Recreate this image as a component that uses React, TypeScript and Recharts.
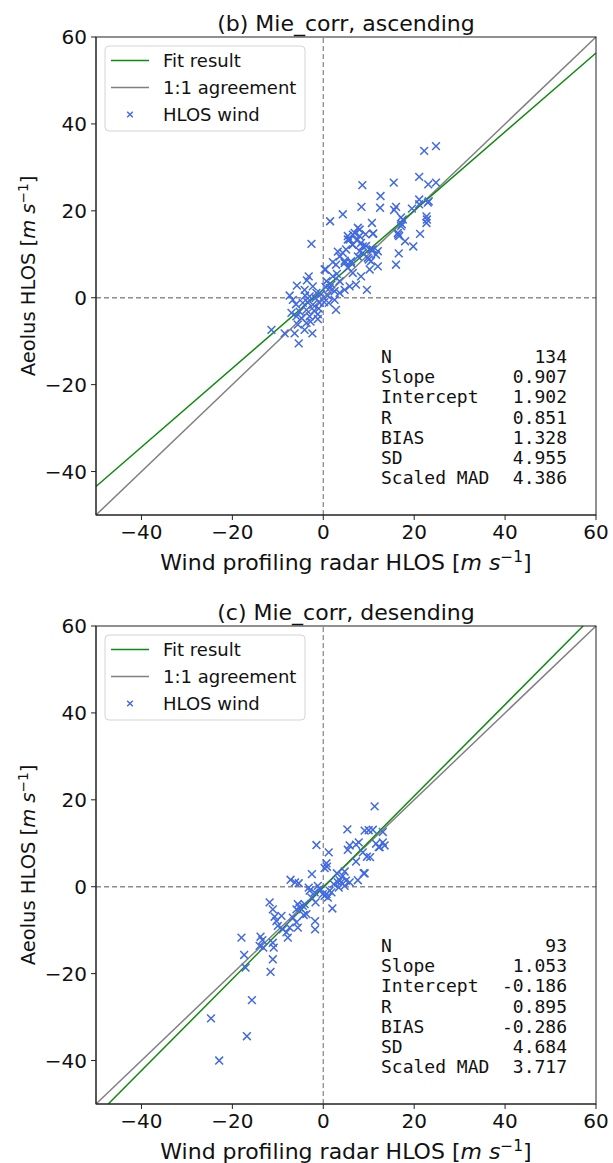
import React from "react";
import { ScatterChart, Scatter, XAxis, YAxis, ReferenceLine } from "recharts";

const AXIS_TICKS = [-40, -20, 0, 20, 40, 60];
const AXIS_DOMAIN: [number, number] = [-50, 60];

// (radar HLOS, Aeolus HLOS) pairs, m/s
const ascendingPoints: [number, number][] = [
  [22.2, 33.8], [24.8, 34.9], [21.1, 27.8], [8.6, 25.9], [15.5, 26.5], [23.1, 26.1], [24.8, 26.5],
  [12.6, 23.4], [12.5, 20.7], [8.4, 20.9], [15.6, 20.2], [16.0, 20.9], [19.5, 20.5], [21.1, 22.6],
  [23.2, 22.2], [22.7, 18.7], [22.8, 18.0], [22.7, 17.2], [21.3, 14.7], [4.3, 19.2], [1.5, 17.6],
  [10.7, 17.2], [17.5, 18.0], [17.3, 16.9], [16.4, 14.9], [16.7, 14.2], [18.0, 13.0], [19.8, 11.8],
  [16.0, 7.6], [16.6, 10.2], [12.0, 7.2], [9.6, 1.8], [-2.6, 12.4],
  [7.6, 16.1], [6.9, 14.9], [5.8, 13.4], [6.4, 12.2], [8.0, 14.2], [9.3, 14.6], [11.0, 14.8],
  [5.0, 11.1], [4.3, 10.3], [3.6, 9.5], [2.8, 7.6], [4.7, 8.0], [6.1, 8.4], [7.6, 9.5],
  [8.7, 10.3], [10.0, 8.8], [11.6, 9.9], [10.5, 11.1], [9.4, 11.9], [8.3, 12.6], [5.4, 6.9],
  [6.5, 5.7], [8.3, 4.9], [10.2, 6.5], [7.2, 3.0], [5.8, 2.6], [4.7, 1.8], [3.6, 1.1],
  [2.5, 1.5], [1.4, 2.2], [0.7, 3.8], [0.3, 6.5], [2.1, 4.9], [3.6, 3.8],
  [-3.2, 4.9], [-3.6, 4.0], [-5.8, 2.8], [-7.4, 0.5], [-6.7, -0.5], [-4.1, 1.8], [-2.3, 2.6],
  [-1.5, 1.1], [-3.0, 0.3], [-4.5, -1.2], [-2.3, -1.6], [-3.7, -2.8], [-5.2, -3.2], [-5.9, -4.3],
  [-7.0, -3.5], [-4.8, -4.7], [-3.0, -4.3], [-1.2, -4.9], [-3.7, -5.8], [-5.6, -6.2], [-11.4, -7.4],
  [-8.5, -8.2], [-6.3, -8.2], [-4.1, -7.4], [-2.4, -8.2], [-5.4, -10.5], [2.8, -2.8], [1.2, -1.2],
  [-0.8, -1.2], [-1.7, -0.1], [0.5, 6.5], [5.4, 13.4],
  [21.1, 21.5], [23.0, 21.9], [17.1, 18.5], [17.1, 16.5], [16.5, 14.5], [5.4, 14.2], [6.5, 14.5],
  [7.4, 13.2], [8.0, 15.7], [10.9, 14.7], [3.2, 10.6], [6.5, 12.2], [8.7, 11.8], [8.0, 10.7],
  [10.9, 11.1], [12.0, 10.7], [9.8, 9.2], [10.5, 8.4], [2.1, 8.2], [6.1, 8.0], [4.7, 8.5],
  [0.5, 2.5], [1.0, 0.5], [-1.0, -2.5], [-2.0, -3.0], [0.2, -1.0], [-0.5, 0.8], [1.8, 3.0],
  [2.5, -0.5], [-1.2, -3.8], [-3.5, -1.0], [-4.0, 0.5], [-6.0, -1.5], [3.0, 5.5], [-2.8, -5.5],
];

const descendingPoints: [number, number][] = [
  [11.3, 18.5], [5.3, 13.2], [9.1, 12.9], [10.0, 13.0], [10.9, 13.1], [13.1, 12.6], [7.8, 10.2],
  [7.2, 9.7], [5.8, 9.5], [5.4, 8.5], [11.6, 9.9], [12.2, 9.1], [13.1, 10.2], [13.5, 9.5],
  [8.7, 7.9], [9.6, 6.9], [10.3, 6.8], [7.2, 5.8], [9.1, 3.1], [7.6, 1.5], [-1.5, 9.6],
  [1.2, 7.9], [0.7, 5.4], [0.3, 4.3], [0.8, 4.6], [-2.5, 2.9], [3.0, 3.1], [4.7, 3.5],
  [4.3, 2.5], [3.6, 1.5], [5.0, 1.4], [5.8, 1.0], [3.2, 1.0], [2.3, 0.6], [1.4, -0.9],
  [0.7, -1.7], [1.8, -1.3], [0.3, -2.1], [-1.2, 0.2], [-0.8, -0.5], [-3.2, -0.2], [-7.2, 1.6],
  [-6.2, 1.0], [-5.4, 0.8], [-1.7, -3.6], [2.0, -5.0], [-2.6, -2.5], [-11.8, -3.6], [-11.1, -5.2],
  [-10.7, -6.9], [-10.3, -7.9], [-10.0, -9.0], [-9.2, -6.7], [-5.6, -4.0], [-5.2, -4.8], [-4.5, -4.4],
  [-5.9, -5.2], [-4.3, -6.5], [-5.9, -8.2], [-6.7, -7.1], [-5.6, -9.4], [-7.4, -9.4], [-8.1, -10.5],
  [-7.8, -11.7], [-8.9, -9.8], [-1.8, -7.9], [-1.8, -9.8], [-3.7, -6.3], [-18.0, -11.7], [-13.8, -11.5],
  [-13.4, -12.3], [-14.0, -13.6], [-13.2, -14.0], [-11.1, -12.9], [-10.9, -14.0], [-17.4, -15.7], [-17.1, -18.6],
  [-11.1, -16.7], [-11.6, -19.6], [-15.7, -26.1], [-24.7, -30.3], [-16.8, -34.4], [-22.9, -40.0],
  [3.9, 1.0], [4.7, 0.2], [3.4, -0.2], [-3.0, -0.9], [-1.9, -1.3], [-0.1, -1.7], [1.0, -2.5],
  [-4.1, -4.0], [8.9, 3.1], [12.4, 9.1],
];

const statLabels = ["N", "Slope", "Intercept", "R", "BIAS", "SD", "Scaled MAD"];
const ascendingStats = ["134", "0.907", "1.902", "0.851", "1.328", "4.955", "4.386"];
const descendingStats = ["93", "1.053", "-0.186", "0.895", "-0.286", "4.684", "3.717"];

const ascendingFit = { slope: 0.907, intercept: 1.902 };
const descendingFit = { slope: 1.053, intercept: -0.186 };

const BLUE = "#4169e1";
const GREEN = "#108a10";
const GREY = "#808080";
const SANS = "DejaVu Sans, sans-serif";
const MONO = "DejaVu Sans Mono, monospace";

const W = 613;
const PLOT_LEFT = 96;
const PLOT_RIGHT = 596;
const PLOT_TOP = 37;
const PLOT_H = 478;
const X_AXIS_H = 50;

const fmtTick = (v: number) => String(v).replace("-", "\u2212");

// keep the fitted line inside the square axis domain
function fitSegment(slope: number, intercept: number) {
  const [lo, hi] = AXIS_DOMAIN;
  const xa = Math.max(lo, (lo - intercept) / slope);
  const xb = Math.min(hi, (hi - intercept) / slope);
  return [
    { x: xa, y: slope * xa + intercept },
    { x: xb, y: slope * xb + intercept },
  ];
}

const crossPath = (cx: number, cy: number, r: number) =>
  `M${cx - r},${cy - r}L${cx + r},${cy + r}M${cx - r},${cy + r}L${cx + r},${cy - r}`;

const Cross = (props: any) => {
  const { cx, cy } = props;
  if (cx == null || cy == null) return null;
  return <path d={crossPath(cx, cy, 3.9)} stroke={BLUE} strokeWidth={1.5} fill="none" />;
};

function UnitLabel({ text, size }: { text: string; size: number }) {
  const lift = Math.round(size * 0.36);
  return (
    <>
      {text} [<tspan fontStyle="italic">m s</tspan>
      <tspan dy={-lift} fontSize={size * 0.7}>{"\u22121"}</tspan>
      <tspan dy={lift}>]</tspan>
    </>
  );
}

function Panel({
  title,
  points,
  fit,
  stats,
  height,
}: {
  title: string;
  points: [number, number][];
  fit: { slope: number; intercept: number };
  stats: string[];
  height: number;
}) {
  const data = points.map(([x, y]) => ({ x, y }));
  const cx = (PLOT_LEFT + PLOT_RIGHT) / 2;
  const cy = PLOT_TOP + PLOT_H / 2;
  const bottomMargin = height - PLOT_TOP - PLOT_H - X_AXIS_H;
  const tickStyle = { fontSize: 20, fill: "#111", fontFamily: SANS };

  return (
    <div style={{ position: "relative", width: W, height }}>
      <ScatterChart
        width={W}
        height={height}
        margin={{ top: PLOT_TOP, right: W - PLOT_RIGHT, bottom: bottomMargin, left: 0 }}
      >
        <XAxis
          type="number"
          dataKey="x"
          domain={AXIS_DOMAIN}
          ticks={AXIS_TICKS}
          interval={0}
          allowDataOverflow
          tickFormatter={fmtTick}
          tick={tickStyle}
          tickSize={5}
          tickMargin={5}
          stroke="#222"
          height={X_AXIS_H}
        />
        <YAxis
          type="number"
          dataKey="y"
          domain={AXIS_DOMAIN}
          ticks={AXIS_TICKS}
          interval={0}
          allowDataOverflow
          tickFormatter={fmtTick}
          tick={tickStyle}
          tickSize={5}
          tickMargin={4}
          stroke="#222"
          width={PLOT_LEFT}
        />
        <ReferenceLine x={0} stroke="#8c8c8c" strokeDasharray="5 3" strokeWidth={1.3} />
        <ReferenceLine y={0} stroke="#8c8c8c" strokeDasharray="5 3" strokeWidth={1.3} />
        <ReferenceLine
          segment={[{ x: AXIS_DOMAIN[0], y: AXIS_DOMAIN[0] }, { x: AXIS_DOMAIN[1], y: AXIS_DOMAIN[1] }]}
          stroke={GREY}
          strokeWidth={1.5}
        />
        <ReferenceLine segment={fitSegment(fit.slope, fit.intercept)} stroke={GREEN} strokeWidth={1.5} />
        <Scatter data={data} shape={Cross} isAnimationActive={false} />
      </ScatterChart>

      <svg
        width={W}
        height={height}
        style={{ position: "absolute", left: 0, top: 0, pointerEvents: "none" }}
      >
        <rect x={PLOT_LEFT} y={PLOT_TOP} width={PLOT_RIGHT - PLOT_LEFT} height={PLOT_H} fill="none" stroke="#222" strokeWidth={1} />
        <text x={cx} y={31} textAnchor="middle" fontSize={22} fontFamily={SANS} fill="#111">
          {title}
        </text>
        <text x={cx} y={PLOT_TOP + PLOT_H + 55} textAnchor="middle" fontSize={22} fontFamily={SANS} fill="#111">
          <UnitLabel text="Wind profiling radar HLOS" size={22} />
        </text>
        <text
          x={28}
          y={cy + 7}
          transform={`rotate(-90 28 ${cy})`}
          textAnchor="middle"
          fontSize={19.5}
          fontFamily={SANS}
          fill="#111"
        >
          <UnitLabel text="Aeolus HLOS" size={19.5} />
        </text>

        <g fontFamily={SANS} fontSize={18} fill="#111">
          <rect x={105} y={46} width={200} height={85} rx={4} fill="#fff" fillOpacity={0.85} stroke="#d4d4d4" />
          <line x1={111} x2={149} y1={60.5} y2={60.5} stroke={GREEN} strokeWidth={1.5} />
          <text x={163} y={67}>Fit result</text>
          <line x1={111} x2={149} y1={87.5} y2={87.5} stroke={GREY} strokeWidth={1.5} />
          <text x={163} y={94}>1:1 agreement</text>
          <path d={crossPath(130, 114.5, 2.8)} stroke={BLUE} strokeWidth={1.4} fill="none" />
          <text x={163} y={121}>HLOS wind</text>
        </g>

        <g fontFamily={MONO} fontSize={18} fill="#111">
          {statLabels.map((label, i) => (
            <text key={label} x={381} y={362.6 + i * 20.3}>
              {label}
            </text>
          ))}
          {stats.map((value, i) => (
            <text key={statLabels[i]} x={567} y={362.6 + i * 20.3} textAnchor="end">
              {value}
            </text>
          ))}
        </g>
      </svg>
    </div>
  );
}

export default function App() {
  return (
    <div style={{ position: "absolute", left: 0, top: 0, width: W, height: 1163, background: "#fff" }}>
      <Panel
        title="(b) Mie_corr, ascending"
        points={ascendingPoints}
        fit={ascendingFit}
        stats={ascendingStats}
        height={589}
      />
      <Panel
        title="(c) Mie_corr, desending"
        points={descendingPoints}
        fit={descendingFit}
        stats={descendingStats}
        height={574}
      />
    </div>
  );
}
